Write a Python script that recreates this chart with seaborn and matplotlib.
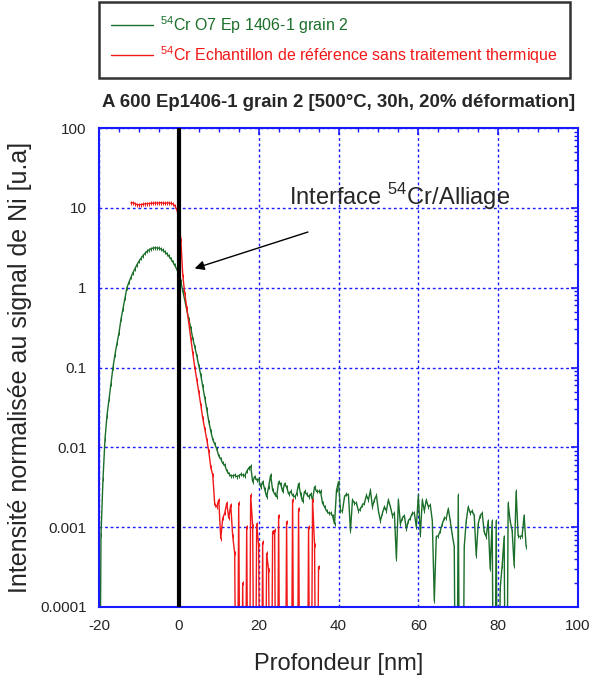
import numpy as np
import pandas as pd
import matplotlib
matplotlib.use('Agg')
import matplotlib.pyplot as plt
import seaborn as sns

# profondeur (nm), pas de 0.5 nm
depth_green = np.arange(-20.0, 87.5, 0.5)
depth_red = np.arange(-12.0, 35.5, 0.5)

# 54Cr O7 Ep 1406-1 grain 2 (normalisé au signal de Ni)
green_vals = [
    0.0, 0.0008, 0.004, 0.0126, 0.025, 0.04, 0.063, 0.1, 0.145, 0.2,
    0.27, 0.4, 0.54, 0.74, 1.0, 1.17, 1.35, 1.54, 1.73, 1.94,
    2.14, 2.33, 2.52, 2.69, 2.84, 2.97, 3.06, 3.13, 3.16, 3.15,
    3.12, 3.05, 2.94, 2.81, 2.65, 2.48, 2.30, 2.10, 1.90, 1.69,
    1.5, 1.2, 0.9, 0.69, 0.52, 0.40, 0.31, 0.23, 0.18, 0.14,
    0.105, 0.08, 0.058, 0.042, 0.03, 0.021, 0.016, 0.0125, 0.011, 0.0095,
    0.0078, 0.0072, 0.0063, 0.006, 0.0051, 0.0047, 0.0044, 0.0044, 0.0045, 0.0043,
    0.0044, 0.0046, 0.0045, 0.0044, 0.0050, 0.0055, 0.0058, 0.0037, 0.0043, 0.0039,
    0.0040, 0.0032, 0.0037, 0.0030, 0.0024, 0.0032, 0.0045, 0.0029, 0.0026, 0.0024,
    0.0037, 0.0035, 0.0028, 0.0035, 0.0032, 0.0026, 0.0028, 0.0025, 0.0024, 0.0026,
    0.0035, 0.0026, 0.0021, 0.0028, 0.0026, 0.0024, 0.0026, 0.0022, 0.0032, 0.0028,
    0.0028, 0.0028, 0.0020, 0.0018, 0.0016, 0.0015, 0.0015, 0.0014, 0.0011, 0.0029,
    0.0037, 0.0016, 0.0016, 0.0024, 0.0026, 0.0025, 0.0009, 0.0022, 0.0020, 0.0020,
    0.0016, 0.0017, 0.0019, 0.0020, 0.0025, 0.0022, 0.0029, 0.0018, 0.0022, 0.0025,
    0.0016, 0.0012, 0.0015, 0.0018, 0.0016, 0.0022, 0.0018, 0.0014, 0.0015, 0.0004,
    0.0022, 0.0011, 0.0013, 0.0014, 0.00095, 0.0012, 0.0013, 0.0015, 0.0015, 0.0010,
    0.0025, 0.0008, 0.0022, 0.0016, 0.0022, 0.0018, 0.0019, 0.0012, 0.00012, 0.00076,
    0.00078, 0.0009, 0.0011, 0.0013, 0.0013, 0.0017, 0.0012, 0.0008, 0.00057, 0.0,
    0.0025, 0.0, 0.0, 0.00057, 0.0012, 0.0018, 0.0015, 0.0016, 0.0014, 0.00044,
    0.0011, 0.0014, 0.0015, 0.00087, 0.00076, 0.0012, 0.0003, 0.0012, 0.0, 0.0012,
    0.0, 0.00017, 0.00033, 0.00076, 0.0, 0.002, 0.0012, 0.0009, 0.00033, 0.0028,
    0.00078, 0.00076, 0.00078, 0.0014, 0.00057,
]

# 54Cr échantillon de référence
red_vals = [
    11.5, 11.6, 11.3, 11.0, 10.9, 11.0, 11.1, 11.2, 11.3, 11.3,
    11.4, 11.4, 11.5, 11.5, 11.5, 11.6, 11.5, 11.4, 11.5, 11.5,
    11.4, 11.2, 10.6, 9.5, 7.5, 4.0, 1.4, 0.84, 0.55, 0.36,
    0.23, 0.15, 0.1, 0.07, 0.049, 0.034, 0.023, 0.017, 0.0125, 0.0089,
    0.0056, 0.0045, 0.0019, 0.0018, 0.0022, 0.00072, 0.0013, 0.0015, 0.0020, 0.0013,
    0.0019, 0.00077, 0.00047, 0.0, 0.0020, 0.0, 0.0002, 0.0, 0.00101, 0.0,
    0.0025, 0.00103, 0.0, 0.0011, 0.00059, 0.0, 0.00065, 0.0, 0.00047, 0.00029,
    0.0, 0.00088, 0.00091, 0.0, 0.0014, 0.0, 0.0, 0.0, 0.00117, 0.0,
    0.0, 0.0022, 0.0, 0.0, 0.0017, 0.0, 0.0, 0.0, 0.0, 0.001,
    0.0, 0.0022, 0.0006, 0.0, 0.00032,
]

green_label = r'$^{54}$Cr O7 Ep 1406-1 grain 2'
red_label = r'$^{54}$Cr Echantillon de référence sans traitement thermique'

df = pd.concat([
    pd.DataFrame({'x': depth_green, 'y': green_vals, 'serie': green_label}),
    pd.DataFrame({'x': depth_red, 'y': red_vals, 'serie': red_label}),
])
# les zéros tombent sous l'axe (échelle log)
df['y'] = df['y'].clip(lower=1e-7)

sns.set_style('white')
plt.rcParams['font.family'] = ['Liberation Sans', 'DejaVu Sans']
plt.rcParams['mathtext.fontset'] = 'custom'
plt.rcParams['mathtext.rm'] = 'Liberation Sans'
plt.rcParams['axes.unicode_minus'] = False

fig = plt.figure(figsize=(5.93, 6.82), dpi=100)
ax = fig.add_axes([99/593, 75/682, 479/593, 479/682])

green = '#1b6f2a'
red = '#f01818'
blue = '#1a1aff'

sns.lineplot(data=df, x='x', y='y', hue='serie', estimator=None, sort=False,
             palette={green_label: green, red_label: red}, lw=1.0,
             marker='|', markersize=2.5, markeredgewidth=0.7, ax=ax, legend=False)
for ln in ax.lines:
    ln.set_markeredgecolor(ln.get_color())
ax.set_yscale('log')
ax.set_xlim(-20, 100)
ax.set_ylim(1e-4, 100)

ax.axvline(0, color='black', lw=3, zorder=5)

ax.set_xticks([-20, 0, 20, 40, 60, 80, 100])
ax.set_xticks(np.arange(-20, 101, 5), minor=True)
ax.set_yticks([1e-4, 1e-3, 1e-2, 1e-1, 1, 10, 100])
ax.set_yticklabels(['0.0001', '0.001', '0.01', '0.1', '1', '10', '100'])
ax.tick_params(which='both', direction='in', top=True, right=True, color=blue,
               labelsize=11, pad=9)
ax.tick_params(which='major', length=5, width=1.2)
ax.tick_params(which='minor', length=3, width=1.0)
ax.grid(True, which='major', color=blue, ls=(0, (2, 2)), lw=1.0)
for s in ax.spines.values():
    s.set_color(blue)
    s.set_linewidth(1.5)

ax.set_xlabel('Profondeur [nm]', fontsize=17, labelpad=14)
ax.set_ylabel('Intensité normalisée au signal de Ni [u.a]', fontsize=18, labelpad=6)
ax.set_title('A 600 Ep1406-1 grain 2 [500°C, 30h, 20% déformation]',
             fontsize=13.4, fontweight='bold', pad=15)

ax.annotate('', xy=(3.3, 1.7), xytext=(33, 5.1),
            arrowprops=dict(arrowstyle='-|>', color='black', lw=1, mutation_scale=14))
ax.text(27.6, 14, r'Interface $^{54}$Cr/Alliage', fontsize=17, va='center', ha='left')

handles = [plt.Line2D([], [], color=green, lw=1), plt.Line2D([], [], color=red, lw=1)]
leg = fig.legend(handles, [green_label, red_label], loc='upper left',
                 bbox_to_anchor=(99/593, 1 - 3/682, 471/593, 0.001),
                 mode='expand', fontsize=11.5, labelcolor='linecolor',
                 frameon=True, fancybox=False, handlelength=2.6, handletextpad=0.5,
                 borderaxespad=0, borderpad=0.75, labelspacing=0.5)
leg.get_frame().set_edgecolor('black')
leg.get_frame().set_linewidth(1.8)

fig.savefig('out.png', dpi=100)
